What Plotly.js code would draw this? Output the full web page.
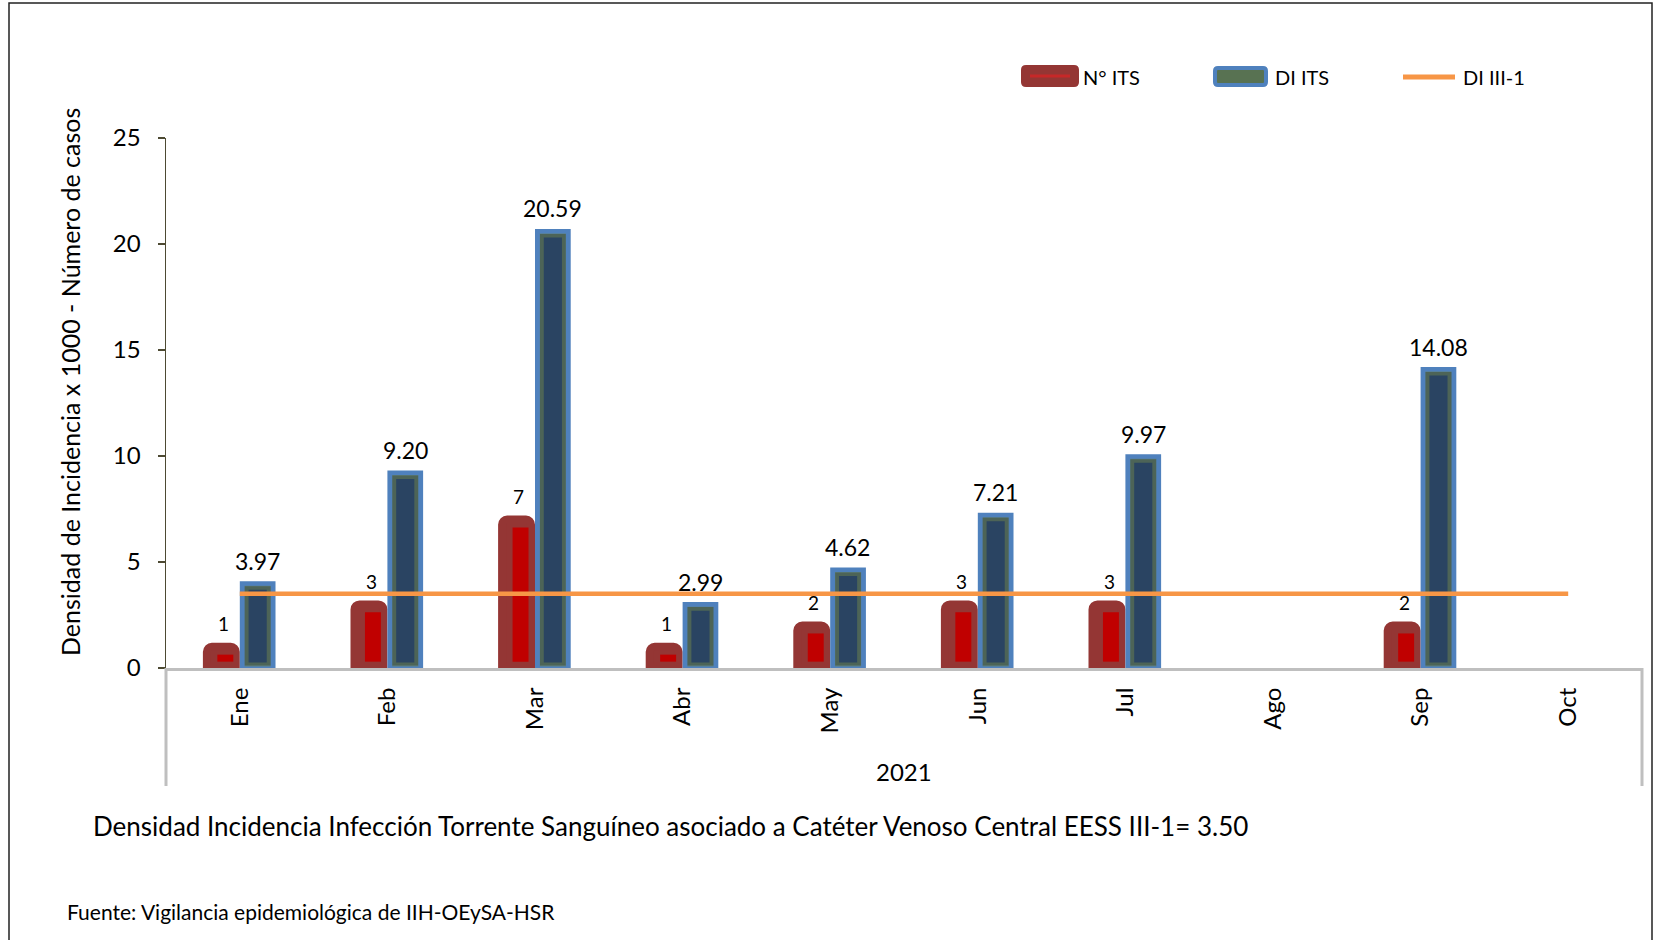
<!DOCTYPE html>
<html><head><meta charset="utf-8">
<script src="https://cdn.plot.ly/plotly-3.0.1.min.js"></script>
<style>html,body{margin:0;padding:0;background:#fff;} #chart{width:1654px;height:940px;}</style>
</head><body><div id="chart"></div>
<script>
// ---- data ----
const months = ['Ene','Feb','Mar','Abr','May','Jun','Jul','Ago','Sep','Oct'];
const nITS   = [1, 3, 7, 1, 2, 3, 3, null, 2, null];
const diITS  = [3.97, 9.20, 20.59, 2.99, 4.62, 7.21, 9.97, null, 14.08, null];
const diRef  = [3.5, 3.5, 3.5, 3.5, 3.5, 3.5, 3.5, 3.5, 3.5, 3.5];
const yTicks = [0, 5, 10, 15, 20, 25];
const yearLabel = '2021';
const seriesNames = ['N° ITS', 'DI ITS', 'DI III-1'];
const yTitle = 'Densidad de Incidencia x 1000 - Número de casos';
const note = 'Densidad Incidencia Infección Torrente Sanguíneo asociado a Catéter Venoso Central EESS III-1= 3.50';
const source = 'Fuente: Vigilancia epidemiológica de IIH-OEySA-HSR';

// ---- layout geometry ----
const W = 1654, H = 940, ML = 166, MR = 12, MT = 138, MB = 272;
const PW = W - ML - MR, PH = H - MT - MB;
const CAT = PW / months.length;
const px = x => (x - ML) / PW;
const py = y => (H - MB - y) / PH;
const FONT = 'Lato, "Open Sans", sans-serif';

function rrect(x0, y0, x1, y1, r) {
  const X = v => px(v).toFixed(5), Y = v => py(v).toFixed(5);
  return `M${X(x0)},${Y(y0 + r)} Q${X(x0)},${Y(y0)} ${X(x0 + r)},${Y(y0)} L${X(x1 - r)},${Y(y0)} ` +
         `Q${X(x1)},${Y(y0)} ${X(x1)},${Y(y0 + r)} L${X(x1)},${Y(y1 - r)} Q${X(x1)},${Y(y1)} ${X(x1 - r)},${Y(y1)} ` +
         `L${X(x0 + r)},${Y(y1)} Q${X(x0)},${Y(y1)} ${X(x0)},${Y(y1 - r)} Z`;
}

const RL = 8; // red bar outline (bevel look)
const traces = [
  { type: 'bar', name: seriesNames[0], x: months, y: nITS,
    offset: -0.25 + (RL / 2) / CAT, width: 0.25 - RL / CAT,
    marker: { color: '#943634', cornerradius: 5, line: { color: '#943634', width: RL } }, hoverinfo: 'y' },
  { type: 'bar', x: months, y: nITS.map(v => v == null ? null : v - 0.67), base: 0.3,
    offset: -0.152, width: 0.108, marker: { color: '#C00000', line: { width: 0 } }, hoverinfo: 'skip' },
  { type: 'bar', name: seriesNames[1], x: months, y: diITS, offset: 0.017, width: 0.208,
    marker: { color: '#2A4462', line: { color: '#4F81BD', width: 5 } }, hoverinfo: 'y' },
  { type: 'bar', x: months, y: diITS.map(v => v == null ? null : v - 0.36), base: 0.17,
    offset: 0.046, width: 0.15,
    marker: { color: 'rgba(0,0,0,0)', line: { color: 'rgba(105,128,78,0.55)', width: 4 } }, hoverinfo: 'skip' },
  { type: 'scatter', mode: 'lines', name: seriesNames[2], x: months, y: diRef,
    line: { color: '#F79646', width: 4.5 }, hoverinfo: 'y' }
];

const annotations = [];
months.forEach((m, i) => {
  if (nITS[i] != null) annotations.push({ x: i - 0.11, y: nITS[i], xref: 'x', yref: 'y', text: String(nITS[i]),
    showarrow: false, yshift: 23, font: { family: FONT, size: 19, color: '#000' } });
  if (diITS[i] != null) annotations.push({ x: i + 0.12, y: diITS[i], xref: 'x', yref: 'y', text: diITS[i].toFixed(2),
    showarrow: false, yshift: 23, font: { family: FONT, size: 23, color: '#000' } });
});
function pAnn(x, y, text, size, xanchor, extra) {
  return Object.assign({ xref: 'paper', yref: 'paper', x: px(x), y: py(y), text, showarrow: false,
    xanchor: xanchor, yanchor: 'middle', font: { family: FONT, size, color: '#000' } }, extra || {});
}
annotations.push(
  pAnn(70, 382, yTitle, 25, 'center', { textangle: -90 }),
  pAnn(904, 771, yearLabel, 24, 'center'),
  pAnn(91, 826, note, 26, 'left'),
  pAnn(65, 911, source, 21, 'left'),
  pAnn(1081, 77, seriesNames[0], 20, 'left'),
  pAnn(1273, 77, seriesNames[1], 20, 'left'),
  pAnn(1461, 77, seriesNames[2], 20, 'left')
);

const shapes = [
  // outer frame
  { type: 'rect', xref: 'paper', yref: 'paper', x0: px(9), x1: px(1652), y0: py(3), y1: py(945),
    line: { color: '#222', width: 1.5 }, fillcolor: 'rgba(0,0,0,0)' },
  // category box sides
  { type: 'line', xref: 'paper', yref: 'paper', x0: 0, x1: 0, y0: 0, y1: py(786), line: { color: '#BFBFBF', width: 3 } },
  { type: 'line', xref: 'paper', yref: 'paper', x0: 1, x1: 1, y0: 0, y1: py(786), line: { color: '#BFBFBF', width: 3 } },
  // legend symbols
  { type: 'path', xref: 'paper', yref: 'paper', path: rrect(1021, 65, 1079, 87, 5), fillcolor: '#943634', line: { width: 0 } },
  { type: 'rect', xref: 'paper', yref: 'paper', x0: px(1030), x1: px(1070), y0: py(74.5), y1: py(77.5), fillcolor: '#C62828', line: { width: 0 } },
  { type: 'path', xref: 'paper', yref: 'paper', path: rrect(1215, 68, 1266, 85, 3), fillcolor: '#587252',
    line: { color: '#4F81BD', width: 4 } },
  { type: 'line', xref: 'paper', yref: 'paper', x0: px(1403), x1: px(1455), y0: py(77), y1: py(77),
    line: { color: '#F79646', width: 5 } }
];

const layout = {
  width: W, height: H, margin: { l: ML, r: MR, t: MT, b: MB, pad: 0 },
  paper_bgcolor: '#fff', plot_bgcolor: '#fff', showlegend: false, barmode: 'overlay',
  font: { family: FONT, color: '#000' },
  xaxis: { type: 'category', categoryorder: 'array', categoryarray: months, range: [-0.5, 9.5],
    showline: true, linecolor: '#BFBFBF', linewidth: 3, showgrid: false, zeroline: false,
    ticks: '', tickangle: -90, ticklabelstandoff: 7, tickfont: { family: FONT, size: 24, color: '#000' },
    automargin: false, fixedrange: true },
  yaxis: { range: [0, 25], tickvals: yTicks, ticktext: yTicks.map(String), showline: true, linecolor: '#4d4a33',
    linewidth: 1.5, ticks: 'outside', ticklen: 7, tickwidth: 1.5, tickcolor: '#4d4a33', showgrid: false,
    zeroline: false, ticklabelstandoff: 12, tickfont: { family: FONT, size: 24, color: '#000' },
    automargin: false, fixedrange: true },
  annotations, shapes
};

Plotly.newPlot('chart', traces, layout, { displayModeBar: false, staticPlot: true });
</script></body></html>
